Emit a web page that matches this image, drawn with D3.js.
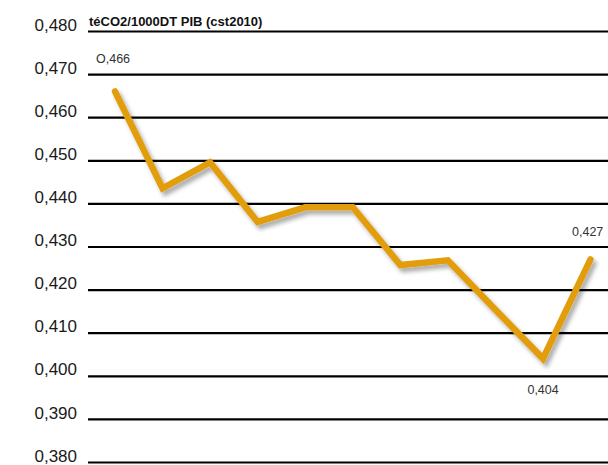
<!DOCTYPE html>
<html>
<head>
<meta charset="utf-8">
<script src="https://cdn.jsdelivr.net/npm/d3@7"></script>
<style>
  html, body { margin: 0; padding: 0; background: #fff; }
  svg { display: block; font-family: "Liberation Sans", Arial, sans-serif; }
</style>
</head>
<body>
<div id="chart"></div>
<script>
// Carbon intensity of GDP, tCO2 per 1000 DT (constant 2010 prices)
const years = ["2000", "2001", "2002", "2003", "2004", "2005", "2006", "2007", "2008", "2009", "2010"];
const intensity = [0.466, 0.4435, 0.4495, 0.4357, 0.4391, 0.4391, 0.4257, 0.4268, 0.4153, 0.404, 0.427];
const yTicks = [0.38, 0.39, 0.40, 0.41, 0.42, 0.43, 0.44, 0.45, 0.46, 0.47, 0.48];
const valueLabels = [
  { index: 0, text: "O,466", dx: -19, dy: -28 },
  { index: 9, text: "0,404", dx: -15.5, dy: 35 },
  { index: 10, text: "0,427", dx: -18.5, dy: -23 }
];
const unitTitle = "téCO2/1000DT PIB (cst2010)";

const width = 608, height = 465;
const svg = d3.select("#chart").append("svg")
  .attr("width", width).attr("height", height);

const x = d3.scalePoint().domain(years).range([115, 590.5]);
const y = d3.scaleLinear().domain([0.38, 0.48]).range([462, 31]);

const fmt = v => d3.format(".3f")(v).replace(".", ",");

// Horizontal gridlines with their labels
const axis = d3.axisLeft(y).tickValues(yTicks).tickFormat(fmt).tickSize(-(width - 88)).tickPadding(11);
const gAxis = svg.append("g").attr("transform", "translate(88,0)").call(axis);
gAxis.select(".domain").remove();
gAxis.selectAll(".tick line").attr("stroke", "#000").attr("stroke-width", 2.2);
gAxis.selectAll(".tick text")
  .attr("fill", "#1a1a1a")
  .attr("font-size", "17px")
  .attr("dy", "-0.05em")
  .attr("x", -11);

// Unit caption
svg.append("text")
  .attr("x", 89).attr("y", 25.5)
  .attr("font-size", "13px").attr("font-weight", "bold").attr("fill", "#111")
  .text(unitTitle);

// Soft drop shadow behind the series line
const defs = svg.append("defs");
const f = defs.append("filter").attr("id", "shadow")
  .attr("x", "-10%").attr("y", "-10%").attr("width", "130%").attr("height", "130%");
f.append("feDropShadow")
  .attr("dx", 3).attr("dy", 4).attr("stdDeviation", 2.2)
  .attr("flood-color", "#000").attr("flood-opacity", 0.33);

const line = d3.line().x((d, i) => x(years[i])).y(d => y(d));
svg.append("path")
  .datum(intensity)
  .attr("d", line)
  .attr("fill", "none")
  .attr("stroke", "#E29D10")
  .attr("stroke-width", 6.5)
  .attr("stroke-linejoin", "miter")
  .attr("stroke-linecap", "round")
  .attr("filter", "url(#shadow)");

// Value labels
svg.selectAll(".vlabel").data(valueLabels).join("text")
  .attr("class", "vlabel")
  .attr("x", d => x(years[d.index]) + d.dx)
  .attr("y", d => y(intensity[d.index]) + d.dy)
  .attr("font-size", "12.5px").attr("fill", "#333")
  .text(d => d.text);
</script>
</body>
</html>
